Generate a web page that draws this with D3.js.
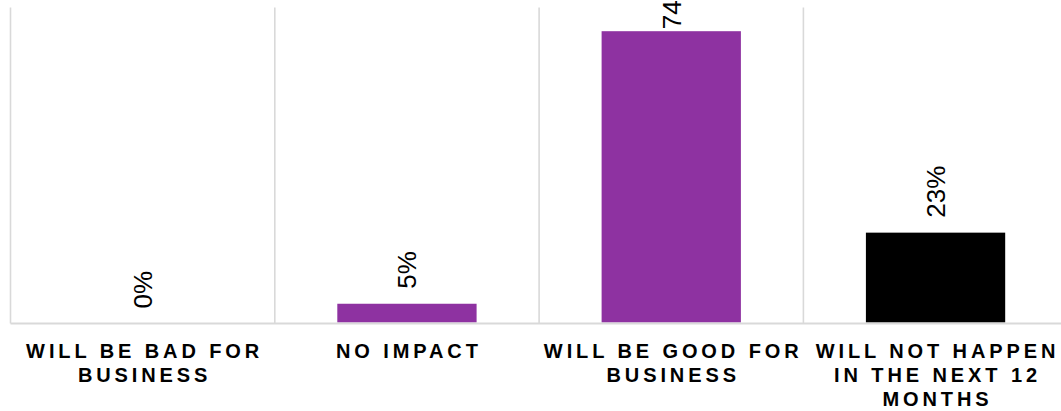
<!DOCTYPE html>
<html>
<head>
<meta charset="utf-8">
<script src="https://cdn.jsdelivr.net/npm/d3@7"></script>
<style>
  html, body { margin: 0; padding: 0; background: #ffffff; }
  svg { display: block; }
  text { font-family: "Liberation Sans", Arial, sans-serif; }
</style>
</head>
<body>
<svg id="chart" width="1061" height="411"></svg>
<script>
// Survey responses (percent of respondents)
const categories = [
  "WILL BE BAD FOR BUSINESS",
  "NO IMPACT",
  "WILL BE GOOD FOR BUSINESS",
  "WILL NOT HAPPEN IN THE NEXT 12 MONTHS"
];
const values = [0, 5, 74, 23];
const barColors = ["#8e32a1", "#8e32a1", "#8e32a1", "#000000"];
const yDomain = [0, 80];

const width = 1061, height = 411;
const plot = { left: 10.5, right: 1067.7, top: 7.5, bottom: 323.5 };

const svg = d3.select("#chart");

const x = d3.scaleBand()
  .domain(categories)
  .range([plot.left, plot.right])
  .padding(0);

const y = d3.scaleLinear()
  .domain(yDomain)
  .range([plot.bottom, plot.top]);

const barFrac = 0.527;
const barW = x.bandwidth() * barFrac;

// vertical gridlines at category boundaries
svg.append("g")
  .selectAll("line")
  .data(categories)
  .join("line")
  .attr("x1", d => x(d))
  .attr("x2", d => x(d))
  .attr("y1", y(yDomain[1]))
  .attr("y2", y(0))
  .attr("stroke", "#d9d9d9")
  .attr("stroke-width", 1.6);

// bars
const data = categories.map((c, i) => ({ cat: c, value: values[i], color: barColors[i] }));

svg.append("g")
  .selectAll("rect")
  .data(data.filter(d => d.value > 0))
  .join("rect")
  .attr("x", d => x(d.cat) + (x.bandwidth() - barW) / 2)
  .attr("width", barW)
  .attr("y", d => y(d.value))
  .attr("height", d => y(0) - y(d.value) - 1)
  .attr("fill", d => d.color);

// category axis
const xAxis = d3.axisBottom(x).tickSize(0).tickPadding(0);
const axisG = svg.append("g")
  .attr("transform", `translate(0,${y(0)})`)
  .call(xAxis);
axisG.select(".domain")
  .attr("d", `M${plot.left},0H${width + 10}`)
  .attr("stroke", "#d9d9d9")
  .attr("stroke-width", 2);

const letterSpacing = 3.9;
axisG.selectAll(".tick text")
  .attr("fill", "#000")
  .style("font-size", "20px")
  .style("font-weight", "bold")
  .style("letter-spacing", letterSpacing + "px")
  .each(function(d) {
    const t = d3.select(this);
    const words = d.split(" ");
    const maxW = x.bandwidth() - 2;
    t.text(null);
    let lines = [];
    let line = [];
    let probe = t.append("tspan");
    words.forEach(w => {
      const trial = line.concat([w]).join(" ");
      probe.text(trial);
      if (probe.node().getComputedTextLength() > maxW && line.length) {
        lines.push(line.join(" "));
        line = [w];
      } else {
        line.push(w);
      }
    });
    lines.push(line.join(" "));
    probe.remove();
    t.attr("y", 0).attr("dy", null);
    lines.forEach((l, i) => {
      t.append("tspan")
        .attr("x", letterSpacing / 2)
        .attr("y", 34.2 + i * 24.2)
        .text(l);
    });
  });

// value labels, rotated, above each bar
const labelSize = 26;
svg.append("g")
  .selectAll("text")
  .data(data)
  .join("text")
  .attr("fill", "#000")
  .style("font-size", labelSize + "px")
  .attr("text-anchor", "start")
  .attr("dy", "0.36em")
  .text(d => d.value + "%")
  .each(function(d) {
    const len = this.getComputedTextLength();
    let gap = 15;
    if (y(d.value) - gap - len < 0) gap = 2;
    d3.select(this).attr("transform",
      `translate(${x(d.cat) + x.bandwidth() / 2},${y(d.value) - gap}) rotate(-90)`);
  });
</script>
</body>
</html>
